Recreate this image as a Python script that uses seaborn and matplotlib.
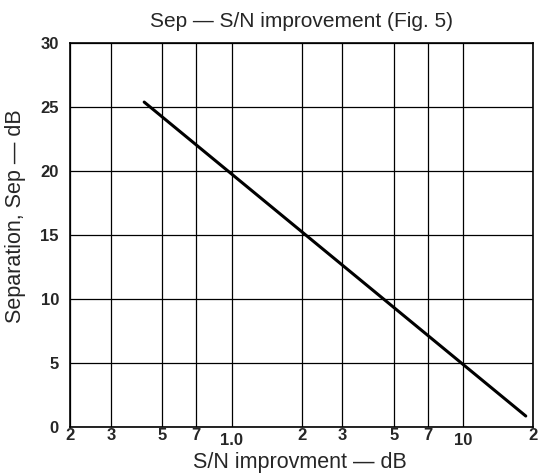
import matplotlib
matplotlib.use("Agg")
import matplotlib.pyplot as plt
import pandas as pd
import seaborn as sns

# datos
sn_improvement = [0.418, 18.6]
separation = [25.4, 0.86]

x_ticks = [0.2, 0.3, 0.5, 0.7, 1.0, 2, 3, 5, 7, 10, 20]
x_tick_labels = ['2', '3', '5', '7', '1.0', '2', '3', '5', '7', '10', '2']
y_ticks = [0, 5, 10, 15, 20, 25, 30]

sns.set_style("white")
plt.rcParams['font.family'] = ['Liberation Sans', 'DejaVu Sans']
tick_font = ['Liberation Sans Narrow', 'Liberation Sans']

fig = plt.figure(figsize=(5.39, 4.75), dpi=100)
ax = fig.add_axes([0.130, 0.101, 0.859, 0.808])

df = pd.DataFrame({'sn': sn_improvement, 'sep': separation})
sns.lineplot(data=df, x='sn', y='sep', color='black', linewidth=2.2, ax=ax)

ax.set_xscale('log')
ax.set_xlim(0.2, 20)
ax.set_ylim(0, 30)
ax.set_xticks(x_ticks)
ax.set_xticklabels(x_tick_labels, fontweight='bold', fontsize=12, family=tick_font)
ax.minorticks_off()
ax.set_yticks(y_ticks)
ax.set_yticklabels([str(v) for v in y_ticks], fontweight='bold', fontsize=12, family=tick_font)
ax.tick_params(axis='x', length=0, pad=1)
ax.tick_params(axis='y', length=0, pad=8)
# 1.0 y 10 van un poco mas abajo
for i, t in enumerate(ax.xaxis.get_major_ticks()):
    if x_tick_labels[i] in ('1.0', '10'):
        t.set_pad(4)

ax.grid(True, color='black', linewidth=0.9)
for s in ax.spines.values():
    s.set_color('black')
    s.set_linewidth(1.2)

ax.set_xlabel('S/N improvment — dB', fontsize=15.5)
ax.xaxis.set_label_coords(0.497, -0.064)
ax.set_ylabel('Separation, Sep — dB', fontsize=15.5)
ax.yaxis.set_label_coords(-0.095, 0.55)
ax.set_title('Sep — S/N improvement (Fig. 5)', fontsize=15, pad=12)

fig.savefig('out.png', dpi=100)
